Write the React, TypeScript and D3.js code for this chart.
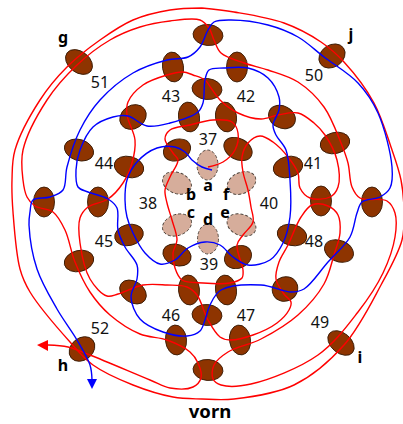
import React from "react";
import * as d3 from "d3";

type P = [number, number];
const W = 403, H = 424;
const tanPoles: [number, number, number, number, number][] = [
  [207.5, 165, 10.5, 15, 0], [177, 183, 15, 10.5, 22], [241.5, 183, 15, 10.5, -25],
  [177, 225, 15, 10.5, -20], [241.5, 225, 15, 10.5, 22], [208, 239, 10.5, 15, 0],
];
const brownPoles: [number, number, number, number, number][] = [
  [208, 35, 15, 10.5, 5], [173, 67, 10.5, 15, -8], [237, 67, 10.5, 15, 0], [207, 89, 15, 10.5, 5],
  [133, 117, 14, 11.5, -35], [189, 117, 10.5, 15, -8], [226, 117, 10.5, 15, -8], [282, 117, 14, 11, 28],
  [79, 150, 15, 10.5, 18], [177, 150, 14, 10.5, -22], [238, 149, 15, 10.5, 28], [335, 143, 15, 10.5, -14],
  [129, 167, 15, 10.5, 14], [288, 167, 15, 10.5, -14], [44, 202, 10.5, 15, 0], [98, 202, 10.5, 15, 0],
  [321, 201, 10.5, 15, 0], [372, 202, 10.5, 15, 0], [79, 62, 15, 10.5, 38], [332, 56, 14, 11, -35],
  [82, 349, 14, 11, -40], [341, 343, 15, 10, 40], [208, 370, 15, 10.5, 5], [176, 340, 10.5, 15, -5],
  [240, 340, 10.5, 15, -8], [207, 315, 15, 10.5, 5], [133, 292, 14.5, 10.5, 35], [189, 290, 10.5, 15, -5],
  [226, 290, 10.5, 15, -8], [285, 289, 13, 12, -30], [79, 261, 15, 10.5, -14], [177, 255, 14.5, 10.5, 20],
  [238, 257, 14, 11, -25], [292, 235, 15, 10.5, 14], [129, 235, 14.5, 10.5, -14], [339, 251, 15, 10.5, 22],
];
const numberLabels: [string, number, number][] = [
  ["37", 208, 145], ["38", 148, 209], ["39", 209, 270], ["40", 269, 209], ["41", 313, 169], ["42", 246, 102],
  ["43", 171, 102], ["44", 104, 169], ["45", 104, 247], ["46", 171, 321], ["47", 246, 321], ["48", 314, 247],
  ["49", 320, 328], ["50", 314, 81], ["51", 100, 88], ["52", 100, 334],
];
const letterLabels: [string, number, number][] = [
  ["g", 63, 43], ["j", 351, 40], ["h", 63, 371], ["i", 360, 363], ["a", 208, 191], ["b", 191, 200],
  ["c", 191, 218], ["d", 208, 225], ["e", 225, 218], ["f", 226, 200],
];
const bluePath: P[] = [
  [212, 170], [202, 167], [192, 160], [185, 152], [175, 147], [157, 148], [137, 162], [127, 180], [125, 200], [127, 217],
  [133, 233], [145, 253], [160, 264], [175, 260], [188, 248], [205, 242], [220, 245], [233, 257], [248, 265], [270, 260],
  [283, 243], [290, 217], [290, 180], [286, 150], [276, 135], [273, 125], [279, 110], [279, 97], [268, 78], [248, 68],
  [224, 68], [209, 70], [205, 80], [203, 103], [198, 112], [170, 123], [147, 126], [128, 116], [113, 117],
  [93, 127], [80, 150], [76, 170], [78, 187], [88, 192], [108, 199], [117, 208], [118, 230], [125, 247], [137, 265],
  [137, 279], [131, 297], [140, 319], [163, 332], [187, 336], [200, 331], [205, 320], [210, 305], [221, 290], [261, 285],
  [291, 292], [304, 289], [328, 262], [350, 237], [357, 213], [362, 202], [380, 197], [390, 188], [392, 167], [378, 113],
  [358, 83], [324, 57], [298, 37], [268, 25], [231, 20], [214, 22], [208, 30], [200, 47], [188, 57], [167, 60],
  [133, 73], [100, 100], [80, 130], [67, 167], [63, 190], [50, 197], [33, 200], [30, 212], [29, 225], [37, 269],
  [57, 309], [77, 340], [90, 365], [92, 380],
];
const redPath: P[] = [
  [208, 167], [223, 162], [235, 150], [238, 133], [232, 122], [213, 120], [190, 125], [170, 130], [165, 139], [173, 153],
  [178, 160], [170, 177], [165, 190], [167, 203], [172, 220], [177, 240], [173, 253], [175, 268], [182, 280], [203, 283],
  [230, 283], [242, 278], [243, 270], [237, 245], [243, 235], [253, 222], [251, 207], [248, 190], [243, 172], [242, 157],
  [248, 143], [260, 136], [273, 142], [288, 157], [298, 173], [300, 188], [310, 198], [330, 197], [338, 187], [337, 160],
  [325, 135], [314, 123], [298, 113], [278, 115], [261, 119], [238, 113], [220, 100], [211, 88], [205, 80], [193, 75],
  [183, 72], [167, 75], [143, 85], [128, 102], [127, 115], [135, 140], [132, 163], [123, 183], [108, 199], [88, 207],
  [80, 218], [80, 243], [90, 279], [107, 296], [118, 294], [143, 285], [167, 285], [187, 287], [197, 295], [208, 320],
  [220, 337], [230, 340], [253, 335], [277, 323], [289, 310], [291, 302], [284, 294], [276, 279], [279, 262], [288, 245],
  [301, 217], [312, 205], [328, 206], [338, 215], [340, 233], [334, 255], [324, 284], [298, 315], [261, 339], [228, 352],
  [214, 365], [213, 379], [221, 385], [251, 384], [318, 355], [358, 312], [383, 273], [395, 237], [395, 213], [387, 201],
  [360, 198], [352, 187], [348, 163], [341, 143], [324, 107], [298, 82], [268, 70], [244, 63], [221, 53], [214, 40],
  [209, 28], [200, 20], [170, 21], [140, 27], [110, 40], [77, 65], [47, 100], [23, 150], [23, 180], [27, 197], [35, 206],
  [53, 212], [65, 230], [75, 262], [90, 292], [110, 315], [140, 334], [167, 340], [190, 352], [198, 363], [201, 378],
  [193, 387], [170, 388], [150, 380], [90, 355], [68, 347], [48, 345],
];
const outerRing: P[] = [
  [202, 8], [234, 12], [284, 23], [321, 42], [344, 62], [374, 103], [391, 147], [401, 180], [404, 212], [402, 240],
  [381, 285], [344, 345], [294, 385], [234, 399], [202, 399], [173, 397], [133, 385], [93, 365], [70, 342], [30, 292],
  [20, 269], [13, 212], [12, 180], [15, 150], [40, 100], [67, 67], [100, 40], [133, 20], [170, 10], [202, 8],
];
const redTip: P[] = [[37, 345], [48, 340], [48, 351]];
const blueTip: P[] = [[92, 389], [87, 379], [97, 379]];

const curve = d3.line<P>().x(d => d[0]).y(d => d[1]).curve(d3.curveCatmullRom.alpha(0.5));
const polygon = d3.line<P>().x(d => d[0]).y(d => d[1]).curve(d3.curveLinearClosed);

export default function App() {
  const sans = "'Noto Sans', sans-serif";
  return (
    <svg width={W} height={H} viewBox={`0 0 ${W} ${H}`} style={{ position: "absolute", left: 0, top: 0, display: "block" }}>
      {tanPoles.map(([x, y, a, b, r], i) => (
        <ellipse key={i} cx={0} cy={0} rx={a} ry={b} transform={`translate(${x},${y}) rotate(${r})`}
          fill="#d6ad9b" stroke="#4a4038" strokeWidth={0.9} strokeDasharray="3 2" />
      ))}
      {brownPoles.map(([x, y, a, b, r], i) => (
        <ellipse key={i} cx={0} cy={0} rx={a} ry={b} transform={`translate(${x},${y}) rotate(${r})`}
          fill="#8e3400" stroke="#3a1c06" strokeWidth={0.9} />
      ))}
      <path d={curve(outerRing) ?? ""} fill="none" stroke="#ff0000" strokeWidth={1.4} />
      <path d={curve(redPath) ?? ""} fill="none" stroke="#ff0000" strokeWidth={1.4} />
      <path d={curve(bluePath) ?? ""} fill="none" stroke="#0000ff" strokeWidth={1.4} />
      <path d={polygon(redTip) ?? ""} fill="#ff0000" />
      <path d={polygon(blueTip) ?? ""} fill="#0000ff" />
      {numberLabels.map(([t, x, y]) => (
        <text key={t} x={x} y={y} textAnchor="middle" fontFamily={sans} fontSize={16} fill="#111">{t}</text>
      ))}
      {letterLabels.map(([t, x, y]) => (
        <text key={t} x={x} y={y} textAnchor="middle" fontFamily={sans} fontWeight="bold" fontSize={16} fill="#000">{t}</text>
      ))}
      <text x={210} y={418} textAnchor="middle" fontFamily={sans} fontWeight="bold" fontSize={18.5} fill="#000">vorn</text>
    </svg>
  );
}
